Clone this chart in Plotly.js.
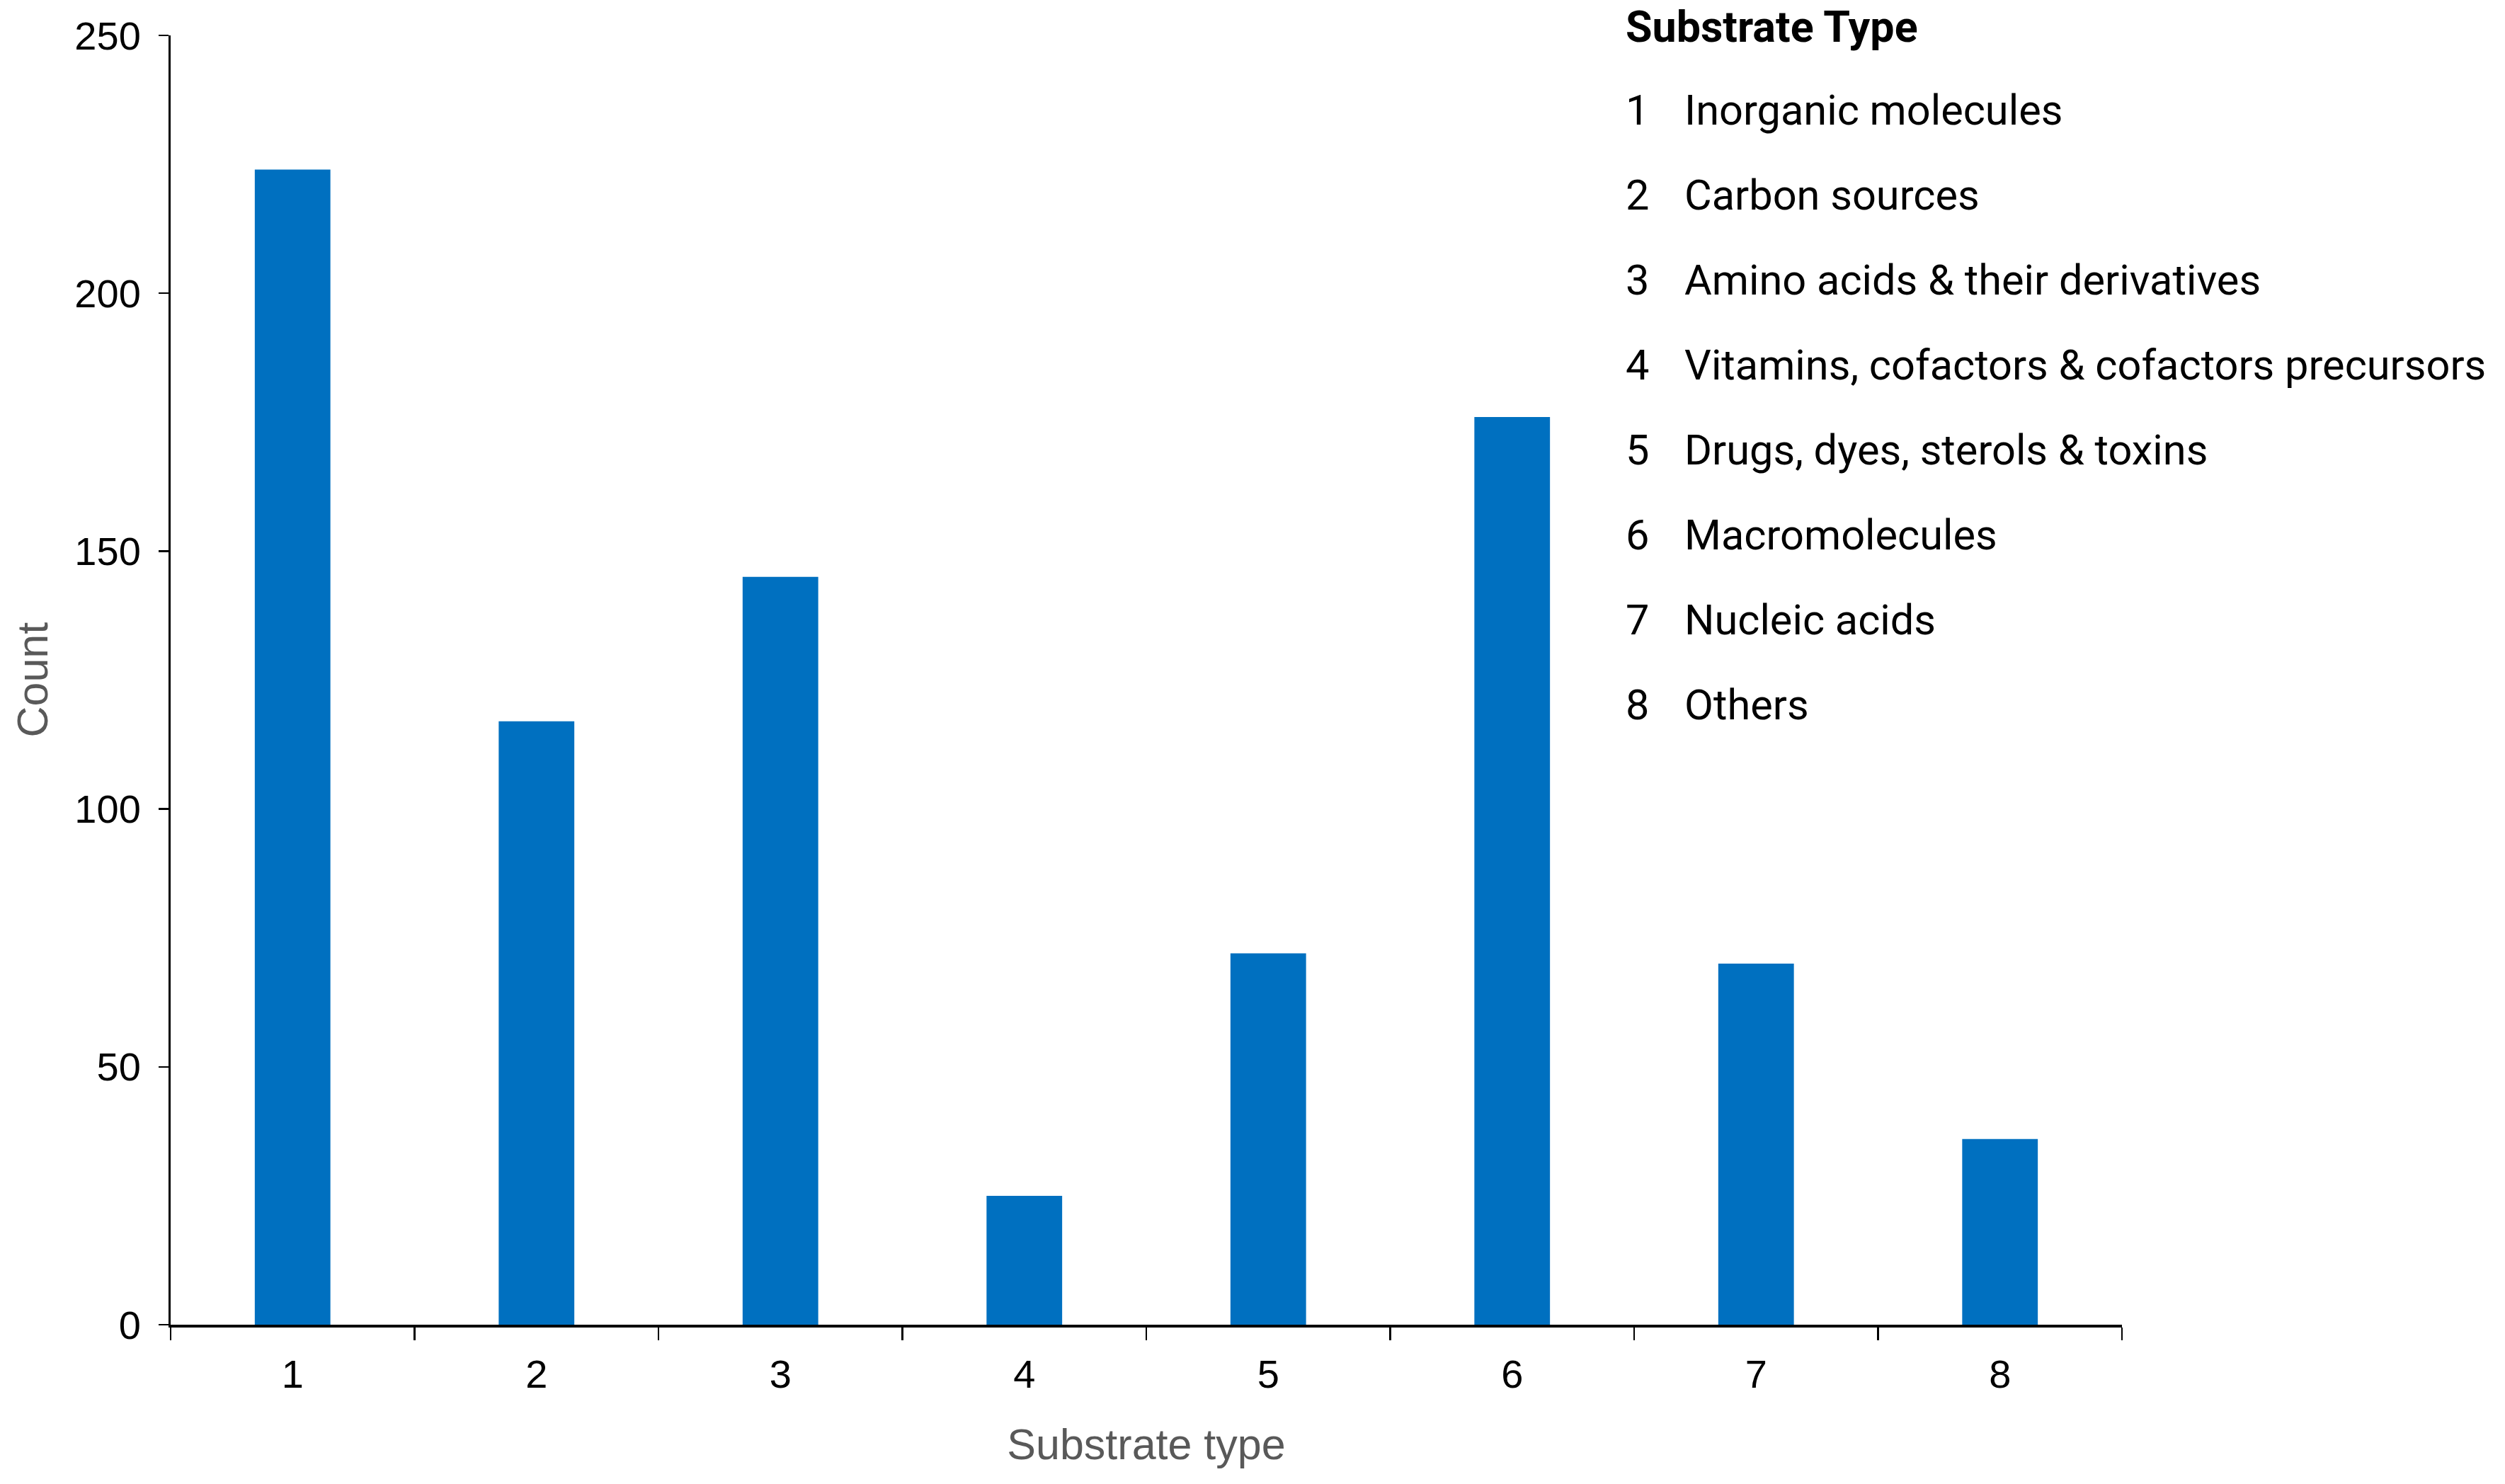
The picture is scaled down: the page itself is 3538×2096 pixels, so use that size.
<!DOCTYPE html>
<html>
<head>
<meta charset="utf-8">
<script src="https://cdn.plot.ly/plotly-3.0.1.min.js"></script>
<style>html,body{margin:0;padding:0;background:#fff;}#chart{width:3538px;height:2096px;}</style>
</head>
<body>
<div id="chart"></div>
<script>
const categories = ['1','2','3','4','5','6','7','8'];
const counts = [224, 117, 145, 25, 72, 176, 70, 36];
const legendTitle = 'Substrate Type';
const legendLabels = [
  'Inorganic molecules',
  'Carbon sources',
  'Amino acids & their derivatives',
  'Vitamins, cofactors & cofactors precursors',
  'Drugs, dyes, sterols & toxins',
  'Macromolecules',
  'Nucleic acids',
  'Others'
];
const yTicks = [0, 50, 100, 150, 200, 250];
const xTitle = 'Substrate type';
const yTitle = 'Count';

const narrow = '"Liberation Sans Narrow", "Arial Narrow", "Liberation Sans", Arial, sans-serif';
const legendFont = 'Roboto, "Liberation Sans", Arial, sans-serif';

const annotations = [];
annotations.push({
  xref: 'paper', yref: 'paper', x: 0.745, y: 1.0066,
  xanchor: 'left', yanchor: 'middle', showarrow: false,
  text: '<b>' + legendTitle + '</b>',
  font: {family: legendFont, size: 61, color: '#000'}
});
const rowStart = 0.9418, rowStep = 0.0659;
categories.forEach((c, i) => {
  const y = rowStart - i * rowStep;
  annotations.push({
    xref: 'paper', yref: 'paper', x: 0.745, y: y,
    xanchor: 'left', yanchor: 'middle', showarrow: false,
    text: c, font: {family: legendFont, size: 59.5, color: '#000'}
  });
  annotations.push({
    xref: 'paper', yref: 'paper', x: 0.775, y: y,
    xanchor: 'left', yanchor: 'middle', showarrow: false,
    text: legendLabels[i], font: {family: legendFont, size: 59.5, color: '#000'}
  });
});
annotations.push({
  xref: 'paper', yref: 'paper', x: -0.0711, y: 0.5,
  xanchor: 'center', yanchor: 'middle', showarrow: false, textangle: -90,
  text: yTitle, font: {family: narrow, size: 61, color: '#595959'}
});

const trace = {
  type: 'bar',
  x: categories,
  y: counts,
  marker: {color: '#0070C0', line: {width: 0}},
  hoverinfo: 'x+y'
};

const layout = {
  width: 3538, height: 2096,
  margin: {l: 241, r: 541, t: 50, b: 225, pad: 0},
  paper_bgcolor: '#fff', plot_bgcolor: '#fff',
  bargap: 0.69,
  showlegend: false,
  font: {family: narrow, color: '#000'},
  xaxis: {
    type: 'category',
    range: [-0.5, 7.5],
    tickson: 'boundaries',
    ticks: 'outside', ticklen: 18, tickwidth: 2.5, tickcolor: '#000',
    showline: true, linecolor: '#000', linewidth: 4,
    showgrid: false, zeroline: false,
    tickfont: {family: narrow, size: 56, color: '#000'},
    ticklabelstandoff: 18,
    title: {text: xTitle, font: {family: narrow, size: 61, color: '#595959'}, standoff: 48}
  },
  yaxis: {
    range: [0, 250],
    tickvals: yTicks,
    ticks: 'outside', ticklen: 14, tickwidth: 2.5, tickcolor: '#000',
    showline: true, linecolor: '#000', linewidth: 3,
    showgrid: false, zeroline: false,
    tickfont: {family: narrow, size: 56, color: '#000'},
    ticklabelstandoff: 14
  },
  annotations: annotations
};

Plotly.newPlot('chart', [trace], layout, {displayModeBar: false, staticPlot: true});
</script>
</body>
</html>
